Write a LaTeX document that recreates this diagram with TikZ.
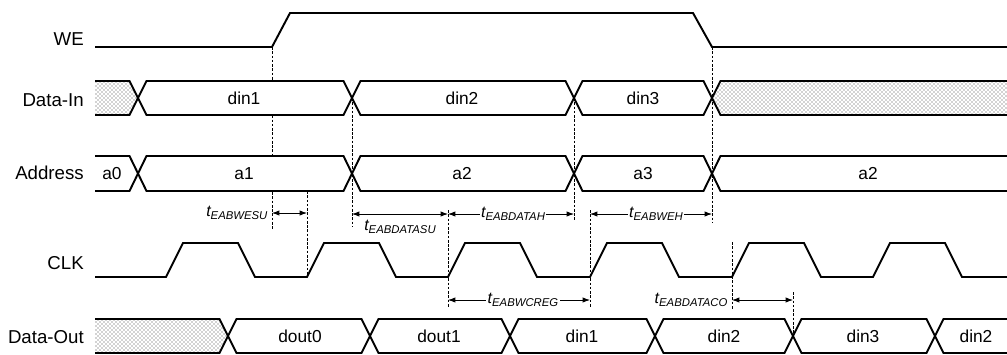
\documentclass[tikz,border=0pt]{standalone}
\usepackage{fontspec}
\setmainfont{Liberation Sans}
\usetikzlibrary{arrows.meta,patterns}
\tikzset{
  sig/.style={line width=1.45pt, line join=miter},
  guide/.style={line width=0.7pt, dash pattern=on 2pt off 1.2pt},
  dim/.style={line width=0.6pt, {Latex[length=5.5pt,width=4pt]}-{Latex[length=5.5pt,width=4pt]}},
  siglabel/.style={anchor=east, font=\fontsize{14}{14}\selectfont, inner sep=0pt},
  buslabel/.style={font=\fontsize{13}{13}\selectfont, inner sep=0pt},
  tlabel/.style={inner sep=1pt},
  blank/.style={fill=white},
  hatch/.style={pattern=crosshatch dots, pattern color=black!75},
}
\newcommand\tsub[1]{{\fontsize{12}{12}\selectfont\itshape t}{\fontsize{8.5}{8.5}\selectfont\itshape\raisebox{-0.5ex}{#1}}}
% middle segment: #1 left crossing, #2 right crossing, #3 top, #4 bottom, #5 fill style
\newcommand\busmid[5]{%
  \fill[#5] ({#1},{(#3+#4)/2}) -- ({#1+8.5},#3) -- ({#2-8.5},#3) -- ({#2},{(#3+#4)/2}) -- ({#2-8.5},#4) -- ({#1+8.5},#4) -- cycle;
  \draw[sig] ({#1},{(#3+#4)/2}) -- ({#1+8.5},#3) -- ({#2-8.5},#3) -- ({#2},{(#3+#4)/2}) -- ({#2-8.5},#4) -- ({#1+8.5},#4) -- cycle;}
% first segment, open at x=95: #1 right crossing
\newcommand\busfirst[4]{%
  \fill[#4] (95,#2) -- ({#1-8.5},#2) -- ({#1},{(#2+#3)/2}) -- ({#1-8.5},#3) -- (95,#3) -- cycle;
  \draw[sig] (95,#2) -- ({#1-8.5},#2) -- ({#1},{(#2+#3)/2}) -- ({#1-8.5},#3) -- (95,#3);}
% last segment, open at x=1007: #1 left crossing
\newcommand\buslast[4]{%
  \fill[#4] ({#1},{(#2+#3)/2}) -- ({#1+8.5},#2) -- (1007,#2) -- (1007,#3) -- ({#1+8.5},#3) -- cycle;
  \draw[sig] (1007,#2) -- ({#1+8.5},#2) -- ({#1},{(#2+#3)/2}) -- ({#1+8.5},#3) -- (1007,#3);}
\begin{document}
\begin{tikzpicture}[x=0.75pt,y=-0.75pt]
\useasboundingbox (0,0) rectangle (1007,354);

% guide coordinates
\coordinate (g1t) at (272,47);  \coordinate (g1b) at (272,229);
\coordinate (g2t) at (307,191); \coordinate (g2b) at (307,277);
\coordinate (g3t) at (352,98);  \coordinate (g3b) at (352,227);
\coordinate (g4t) at (448,210); \coordinate (g4b) at (448,307);
\coordinate (g5t) at (574,98);  \coordinate (g5b) at (574,220);
\coordinate (g6t) at (590,210); \coordinate (g6b) at (590,307);
\coordinate (g7t) at (712,47);  \coordinate (g7b) at (712,222);
\coordinate (g8t) at (732,242); \coordinate (g8b) at (732,310);
\coordinate (g9t) at (793,292); \coordinate (g9b) at (793,336);

\foreach \g in {1,...,9} {\draw[guide] (g\g t) -- (g\g b);}

% signal labels
\node[siglabel] (lwe)   at (84,39)  {WE};
\node[siglabel] (ldin)  at (84,100) {Data-In};
\node[siglabel] (laddr) at (84,173) {Address};
\node[siglabel] (lclk)  at (84,263) {CLK};
\node[siglabel] (ldout) at (84,337) {Data-Out};

% WE
\draw[sig] (95,47) -- (272,47) -- (290,13) -- (693,13) -- (712,47) -- (1007,47);

% Data-In
\busfirst{138}{81}{115}{hatch}
\busmid{138}{352}{81}{115}{blank}
\busmid{352}{574}{81}{115}{blank}
\busmid{574}{712}{81}{115}{blank}
\buslast{712}{81}{115}{hatch}
\node[buslabel] (din1) at (244,98) {din1};
\node[buslabel] (din2) at (462,98) {din2};
\node[buslabel] (din3) at (643,98) {din3};

% Address
\busfirst{138}{156}{191}{blank}
\busmid{138}{352}{156}{191}{blank}
\busmid{352}{574}{156}{191}{blank}
\busmid{574}{712}{156}{191}{blank}
\buslast{712}{156}{191}{blank}
\node[buslabel] (a0)  at (112,173.5) {a0};
\node[buslabel] (a1)  at (244,173.5) {a1};
\node[buslabel] (a2)  at (462,173.5) {a2};
\node[buslabel] (a3)  at (643,173.5) {a3};
\node[buslabel] (a2b) at (868,173.5) {a2};

% CLK
\draw[sig] (95,277) -- (166,277) -- (183,243) -- (238,243) -- (255,277) -- (307,277)
  -- (324,243) -- (379,243) -- (396,277) -- (448,277) -- (465,243) -- (520,243)
  -- (537,277) -- (590,277) -- (607,243) -- (662,243) -- (679,277) -- (732,277)
  -- (749,243) -- (804,243) -- (821,277) -- (873,277) -- (890,243) -- (945,243)
  -- (962,277) -- (1007,277);

% Data-Out
\busfirst{228}{319}{353}{hatch}
\busmid{228}{370}{319}{353}{blank}
\busmid{370}{510}{319}{353}{blank}
\busmid{510}{655}{319}{353}{blank}
\busmid{655}{793}{319}{353}{blank}
\busmid{793}{935}{319}{353}{blank}
\buslast{935}{319}{353}{blank}
\node[buslabel] (dout0) at (300,336) {dout0};
\node[buslabel] (dout1) at (439,336) {dout1};
\node[buslabel] (dodin1) at (582,336) {din1};
\node[buslabel] (dodin2) at (724,336) {din2};
\node[buslabel] (dodin3) at (863,336) {din3};
\node[buslabel] (dodin2b) at (976,336) {din2};

% timing arrows
\coordinate (a1l) at (272,213); \coordinate (a1r) at (307,213);
\coordinate (a2l) at (352,214); \coordinate (a2r) at (448,214);
\coordinate (a3l) at (448,214); \coordinate (a3r) at (574,214);
\coordinate (a4l) at (590,214); \coordinate (a4r) at (712,214);
\coordinate (a5l) at (448,300); \coordinate (a5r) at (590,300);
\coordinate (a6l) at (732,300); \coordinate (a6r) at (793,300);
\draw[dim] (a1l) -- (a1r);
\draw[dim] (a2l) -- (a2r);
\draw[dim] (a3l) -- (a3r);
\draw[dim] (a4l) -- (a4r);
\draw[dim] (a5l) -- (a5r);
\draw[dim] (a6l) -- (a6r);

\node[tlabel, anchor=east] (twesu) at (269,213) {\tsub{EABWESU}};
\node[tlabel] (tdatasu) at (400,227) {\tsub{EABDATASU}};
\node[tlabel, blank] (tdatah) at (513,214) {\tsub{EABDATAH}};
\node[tlabel, blank] (tweh) at (656,214) {\tsub{EABWEH}};
\node[tlabel, blank] (twcreg) at (523,300) {\tsub{EABWCREG}};
\node[tlabel, anchor=east] (tdataco) at (729,300) {\tsub{EABDATACO}};
\end{tikzpicture}
\end{document}
